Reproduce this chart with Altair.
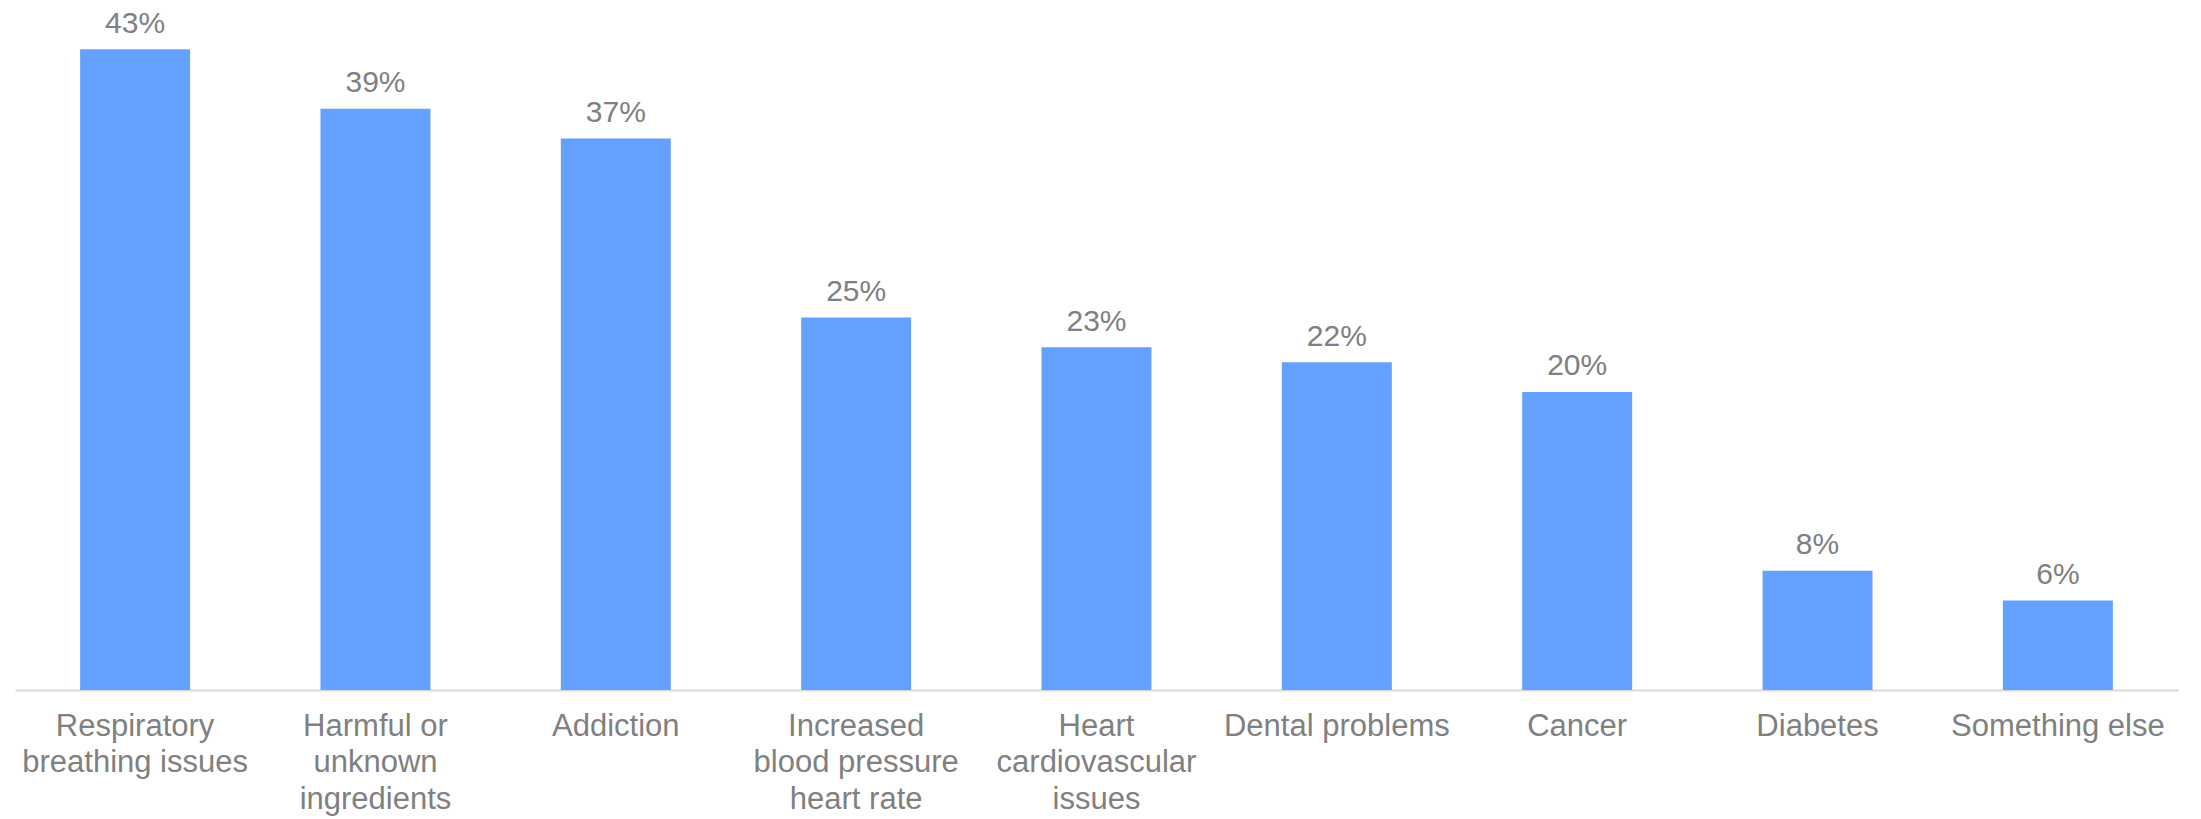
import altair as alt
import pandas as pd

# Survey results: perceived health risks
categories = [
    "Respiratory\nbreathing issues",
    "Harmful or\nunknown\ningredients",
    "Addiction",
    "Increased\nblood pressure\nheart rate",
    "Heart\ncardiovascular\nissues",
    "Dental problems",
    "Cancer",
    "Diabetes",
    "Something else",
]
shares = [43, 39, 37, 25, 23, 22, 20, 8, 6]

df = pd.DataFrame({"category": categories, "share": [s / 100 for s in shares]})

FONT = "Liberation Sans"
GREY = "#808080"
BAR = "#64A0FF"

x_enc = alt.X(
    "category:N",
    sort=categories,
    title=None,
    scale=alt.Scale(paddingInner=0.5425, paddingOuter=0.271),
    axis=alt.Axis(
        labelAngle=0,
        ticks=False,
        labelPadding=21,
        labelFont=FONT,
        labelFontSize=31,
        labelColor=GREY,
        labelLineHeight=36.5,
        labelBaseline="top",
        labelLimit=400,
        labelExpr="split(datum.label, '\\n')",
        domainColor="#d9d9d9",
        domainWidth=2,
        grid=False,
    ),
)
y_enc = alt.Y(
    "share:Q",
    title=None,
    scale=alt.Scale(domain=[0, 0.463], nice=False, zero=True),
    axis=None,
)

bars = alt.Chart(df).mark_bar(color=BAR).encode(x=x_enc, y=y_enc)

labels = alt.Chart(df).mark_text(
    font=FONT,
    fontSize=30,
    color=GREY,
    baseline="alphabetic",
    dy=-16.5,
).encode(
    x=alt.X("category:N", sort=categories),
    y=alt.Y("share:Q"),
    text=alt.Text("share:Q", format=".0%"),
)

chart = (
    alt.layer(bars, labels)
    .properties(
        width=2163,
        height=690,
        padding={"left": 15, "top": 0, "right": 23, "bottom": 129},
        autosize=alt.AutoSizeParams(type="none"),
    )
    .configure(background="white", view=alt.ViewConfig(stroke="transparent", strokeWidth=0))
)

chart.save("out.html", embed_options={"renderer": "svg", "actions": False})
